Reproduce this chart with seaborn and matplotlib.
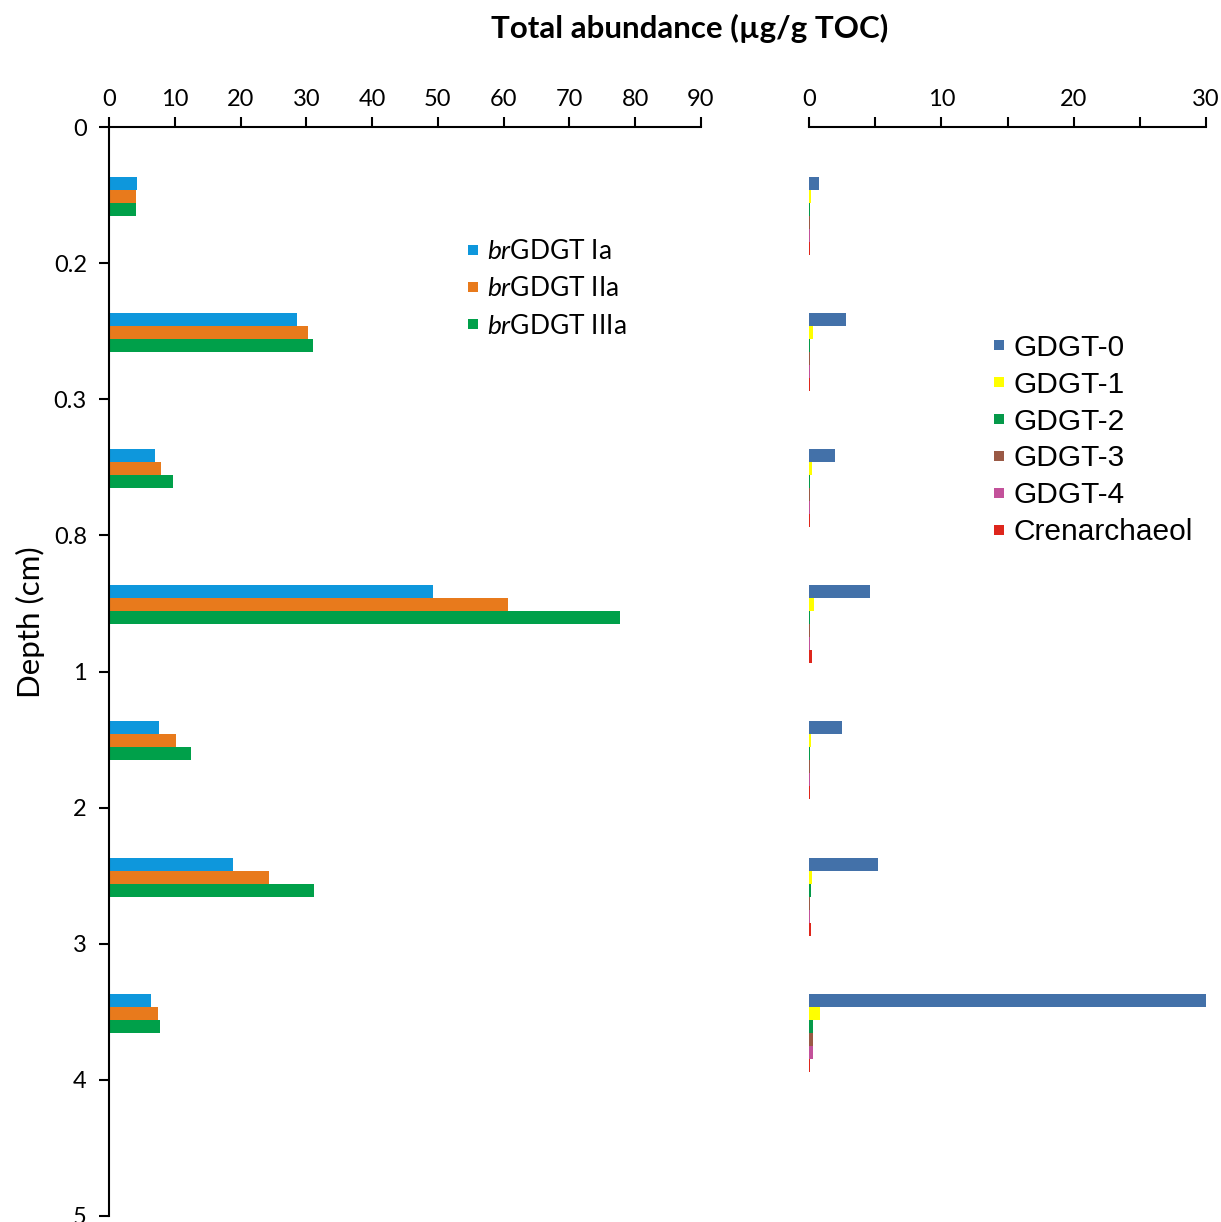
import numpy as np
import pandas as pd
import matplotlib
matplotlib.use("Agg")
import matplotlib.pyplot as plt
import seaborn as sns
from matplotlib.lines import Line2D
from matplotlib.ticker import MultipleLocator

# ---------------- data ----------------
depth_labels = ["0", "0.2", "0.3", "0.8", "1", "2", "3", "4", "5"]
n_samples = 7

br_series = ["brGDGT Ia", "brGDGT IIa", "brGDGT IIIa"]
br_labels = [r"$\it{br}$GDGT Ia", r"$\it{br}$GDGT IIa", r"$\it{br}$GDGT IIIa"]
br_Ia = [4.3, 28.6, 7.0, 49.3, 7.6, 18.9, 6.4]
br_IIa = [4.1, 30.3, 7.9, 60.7, 10.2, 24.3, 7.4]
br_IIIa = [4.1, 31.0, 9.7, 77.7, 12.5, 31.2, 7.8]

gdgt_series = ["GDGT-0", "GDGT-1", "GDGT-2", "GDGT-3", "GDGT-4", "Crenarchaeol"]
gdgt0 = [0.76, 2.83, 1.95, 4.6, 2.5, 5.2, 30.0]
gdgt1 = [0.12, 0.28, 0.20, 0.36, 0.15, 0.22, 0.84]
gdgt2 = [0.07, 0.07, 0.06, 0.07, 0.06, 0.12, 0.28]
gdgt3 = [0.05, 0.05, 0.05, 0.07, 0.05, 0.09, 0.28]
gdgt4 = [0.05, 0.05, 0.05, 0.07, 0.05, 0.09, 0.28]
cren = [0.07, 0.07, 0.06, 0.20, 0.06, 0.15, 0.07]

br_colors = ["#0E97DC", "#E87A1C", "#00A04A"]
gdgt_colors = ["#4371A9", "#FFFF00", "#05994A", "#9A5945", "#C3519A", "#DE261C"]

# ---------------- style ----------------
sns.set_theme(style="white")
plt.rcParams["font.family"] = ["Lato", "DejaVu Sans"]
plt.rcParams["mathtext.fontset"] = "custom"
plt.rcParams["mathtext.it"] = "Lato:italic"
plt.rcParams["mathtext.rm"] = "Lato"
for k in ("text.color", "axes.labelcolor", "xtick.color", "ytick.color"):
    plt.rcParams[k] = "black"

TOP_OFFSET = 0.367   # gap from category boundary to first bar
BAR_H = 0.0955       # bar thickness in axis units


def long_frame(series_names, arrays):
    rows = []
    for j, (name, vals) in enumerate(zip(series_names, arrays)):
        for i, v in enumerate(vals):
            rows.append({"pos": i + TOP_OFFSET + (j + 0.5) * BAR_H,
                         "series": name, "value": v})
    return pd.DataFrame(rows)


dfL = long_frame(br_series, [br_Ia, br_IIa, br_IIIa])
dfR = long_frame(gdgt_series, [gdgt0, gdgt1, gdgt2, gdgt3, gdgt4, cren])

W, H = 1221, 1222
fig = plt.figure(figsize=(W / 100, H / 100), dpi=100)
fig.patch.set_facecolor("white")

axL = fig.add_axes([109 / W, 1 - 1216 / H, 592 / W, (1216 - 127) / H])
axR = fig.add_axes([809 / W, 1 - 1216 / H, 397 / W, (1216 - 127) / H])

sns.barplot(data=dfL, x="value", y="pos", hue="series", hue_order=br_series,
            palette=br_colors, saturation=1, orient="h", native_scale=True,
            dodge=False, width=1.0, errorbar=None, linewidth=0, legend=False,
            ax=axL)
sns.barplot(data=dfR, x="value", y="pos", hue="series", hue_order=gdgt_series,
            palette=gdgt_colors, saturation=1, orient="h", native_scale=True,
            dodge=False, width=1.0, errorbar=None, linewidth=0, legend=False,
            ax=axR)

for ax in (axL, axR):
    ax.set_facecolor("white")
    ax.set_ylim(n_samples + 1, 0)
    ax.xaxis.tick_top()
    ax.xaxis.set_label_position("top")
    ax.set_xlabel("")
    ax.set_ylabel("")
    ax.spines["bottom"].set_visible(False)
    ax.spines["right"].set_visible(False)
    ax.spines["top"].set_linewidth(1.5)
    ax.spines["top"].set_color("black")
    ax.tick_params(axis="x", which="both", direction="out", top=True,
                   bottom=False, labelsize=17, width=1.5, length=7,
                   color="black", pad=5)

axL.set_xlim(0, 90)
axL.set_xticks(np.arange(0, 91, 10))
axL.set_yticks(np.arange(0, n_samples + 2))
axL.set_yticklabels(depth_labels)
axL.spines["left"].set_linewidth(1.5)
axL.spines["left"].set_color("black")
axL.tick_params(axis="y", direction="out", left=True, labelsize=17,
                width=1.5, length=7, color="black", pad=9)

axR.set_xlim(0, 30)
axR.set_xticks([0, 10, 20, 30])
axR.xaxis.set_minor_locator(MultipleLocator(5))
axR.spines["left"].set_visible(False)
axR.set_yticks([])

fig.text(690 / W, 1 - 28 / H, "Total abundance (µg/g TOC)", ha="center",
         va="center", fontsize=22.5, fontweight="bold")
fig.text(30 / W, 1 - 622 / H, "Depth (cm)", rotation=90, ha="center",
         va="center", fontsize=22.5)

hL = [Line2D([], [], marker="s", linestyle="none", markersize=6.5,
             markerfacecolor=c, markeredgewidth=0) for c in br_colors]
fig.legend(hL, br_labels, loc="center left",
           bbox_to_anchor=(466 / W, 1 - 289 / H), frameon=False, fontsize=19,
           handlelength=0.54, handletextpad=0.27, labelspacing=0.46,
           borderpad=0, borderaxespad=0)

hR = [Line2D([], [], marker="s", linestyle="none", markersize=6.5,
             markerfacecolor=c, markeredgewidth=0) for c in gdgt_colors]
fig.legend(hR, gdgt_series, loc="center left",
           bbox_to_anchor=(992 / W, 1 - 440 / H), frameon=False,
           prop={"family": ["Liberation Sans", "DejaVu Sans"], "size": 21.5},
           handlelength=0.5, handletextpad=0.21, labelspacing=0.3,
           borderpad=0, borderaxespad=0)

fig.savefig("out.png", dpi=100, facecolor="white")
